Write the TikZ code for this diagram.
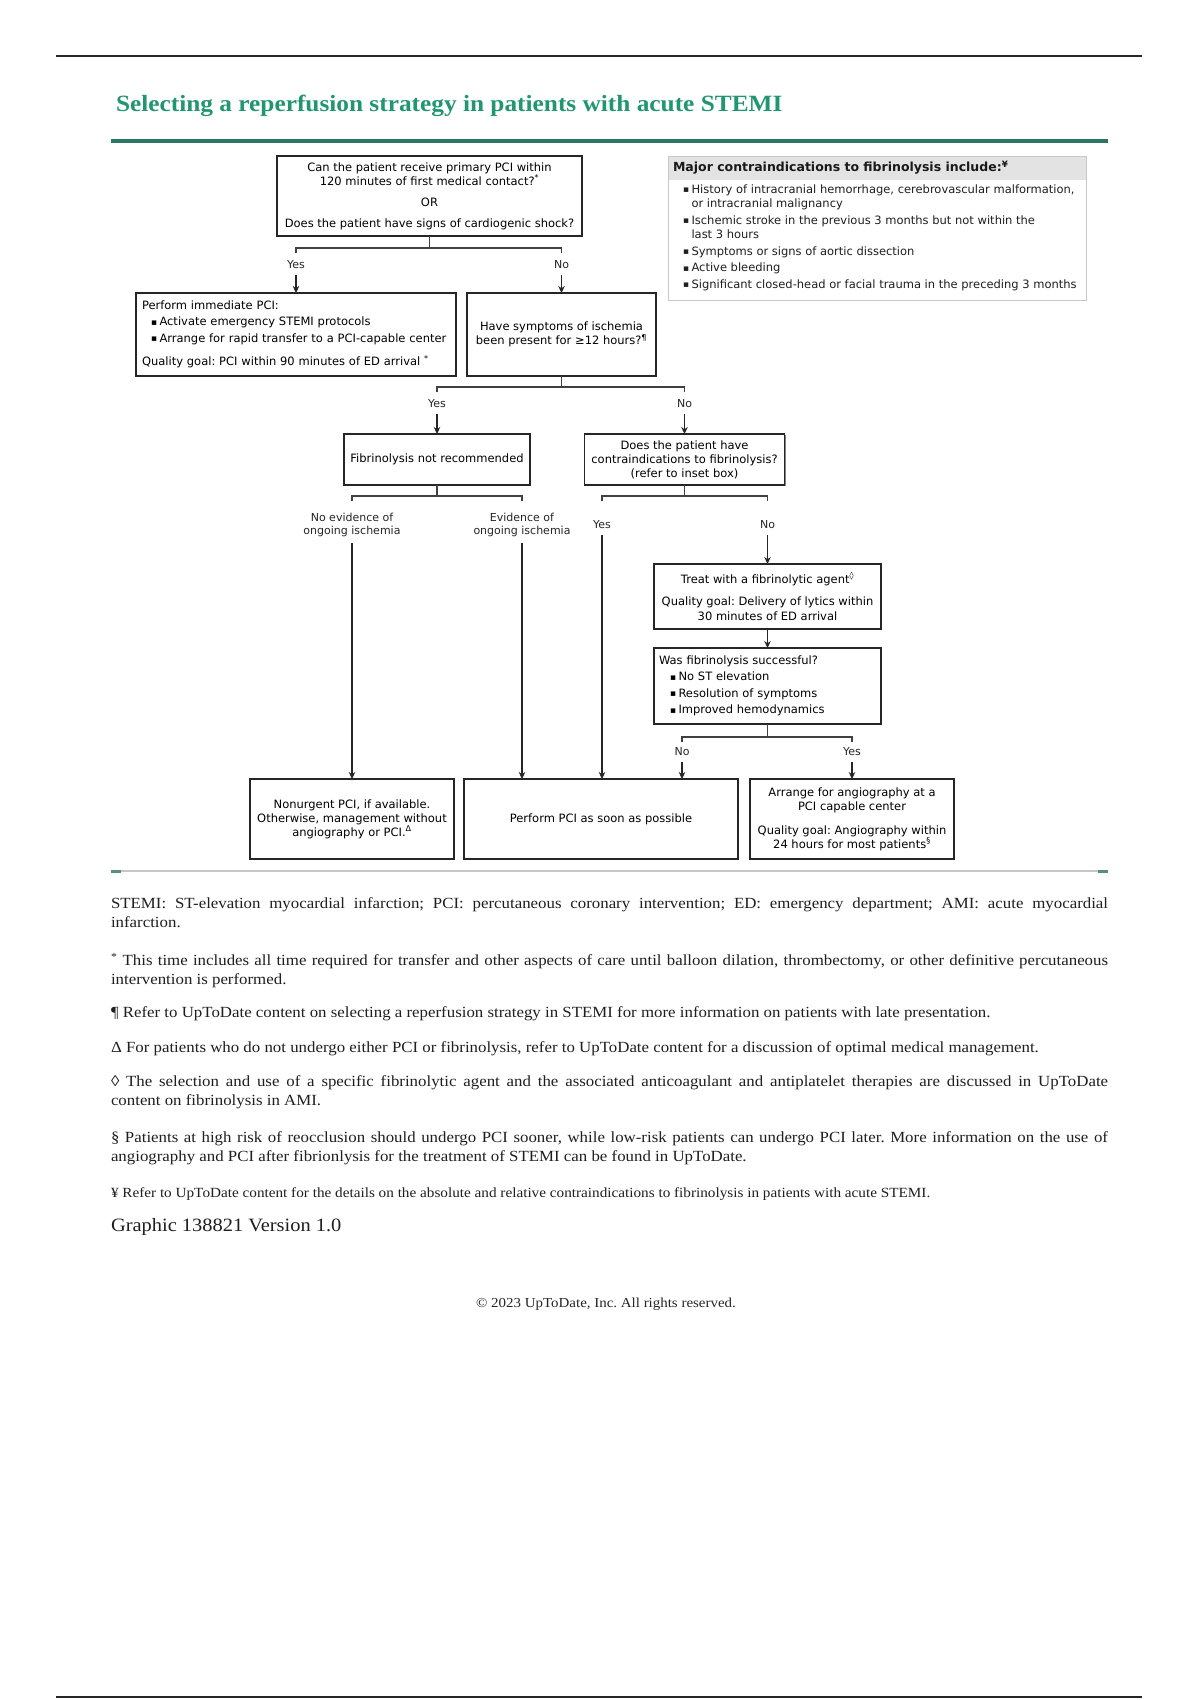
\documentclass[tikz,border=0pt]{standalone}
\usepackage{fontspec}
\setmainfont[FakeStretch=1.087]{Liberation Serif}
\newfontfamily\boxfont{DejaVu Sans}
\usetikzlibrary{arrows.meta,shadows}
\definecolor{titlegreen}{RGB}{34,150,112}
\definecolor{rulegreen}{RGB}{42,118,98}
\newcommand{\bul}{\makebox[8.5pt][l]{\raisebox{0.6pt}{\fontsize{9}{9}\selectfont ▪}}}
\frenchspacing
\begin{document}
\begin{tikzpicture}[x=1pt,y=-1pt,
  every node/.style={inner sep=0pt, outer sep=0pt},
  fbox/.style={draw=black!85, line width=1.2pt, fill=white,
    drop shadow={shadow xshift=1.3pt, shadow yshift=-1.3pt, fill=black!50, opacity=1},
    font=\boxfont\fontsize{11.5}{14}\selectfont, align=center},
  lbox/.style={fbox, align=left, inner xsep=6pt},
  arr/.style={-{Stealth[length=7pt,width=6.5pt]}, line width=1.3pt, draw=black!85},
  ln/.style={line width=1.2pt, draw=black!75},
  lbl/.style={font=\boxfont\fontsize{11}{13.5}\selectfont, align=center, text=black!85},
  fn/.style={anchor=north west, text width=997pt, align=justify, font=\fontsize{15.5}{18.8}\selectfont, text=black!88},
]
\useasboundingbox (0,0) rectangle (1200,1700);
\fill[white] (0,0) rectangle (1200,1700);

% page rules
\coordinate (tl) at (56,56); \coordinate (tr) at (1142,56);
\draw[line width=2pt, black!85] (tl) -- (tr);
\coordinate (bl) at (56,1697); \coordinate (br) at (1142,1697);
\draw[line width=2pt, black!85] (bl) -- (br);

% title
\node[anchor=west, font=\bfseries\fontsize{23.3}{26}\selectfont, text=titlegreen] (title) at (116,105.5) {Selecting a reperfusion strategy in patients with acute STEMI};
\coordinate (gl) at (111,141); \coordinate (gr) at (1108,141);
\draw[rulegreen, line width=4pt] (gl) -- (gr);

% ---------- boxes ----------
\node[fbox, minimum width=305, minimum height=80] (b1) at (429.5,196)
 {Can the patient receive primary PCI within\\120 minutes of first medical contact?\textsuperscript{*}\\[7pt]OR\\[7pt]Does the patient have signs of cardiogenic shock?};

\node[lbox, text width=308pt, minimum height=83, font=\boxfont\fontsize{11.5}{16.5}\selectfont] (b2) at (296,334.5)
 {Perform immediate PCI:\\\hspace*{9pt}\bul Activate emergency STEMI protocols\\\hspace*{9pt}\bul Arrange for rapid transfer to a PCI-capable center\\[7pt]Quality goal: PCI within 90 minutes of ED arrival\textsuperscript{ *}};

\node[fbox, minimum width=189, minimum height=83] (b3) at (561.5,334.5)
 {Have symptoms of ischemia\\been present for ≥12 hours?\textsuperscript{¶}};

\node[fbox, minimum width=186, minimum height=51] (b4) at (437,459.5)
 {Fibrinolysis not recommended};

\node[fbox, minimum width=200, minimum height=51] (b5) at (684.5,459.5)
 {Does the patient have\\contraindications to fibrinolysis?\\(refer to inset box)};

\node[fbox, minimum width=227, minimum height=65, font=\boxfont\fontsize{11.5}{14.5}\selectfont] (b6) at (767.5,596.5)
 {Treat with a fibrinolytic agent\textsuperscript{◊}\\[8pt]Quality goal: Delivery of lytics within\\30 minutes of ED arrival};

\node[lbox, inner xsep=5pt, text width=217pt, minimum height=76, font=\boxfont\fontsize{11.5}{16.5}\selectfont] (b7) at (767.5,686)
 {Was fibrinolysis successful?\\\hspace*{11pt}\bul No ST elevation\\\hspace*{11pt}\bul Resolution of symptoms\\\hspace*{11pt}\bul Improved hemodynamics};

\node[fbox, minimum width=204, minimum height=80] (b8) at (352,819)
 {Nonurgent PCI, if available.\\Otherwise, management without\\angiography or PCI.\textsuperscript{Δ}};

\node[fbox, minimum width=274, minimum height=80] (b9) at (601,819)
 {Perform PCI as soon as possible};

\node[fbox, minimum width=204, minimum height=80] (b10) at (852,819)
 {Arrange for angiography at a\\PCI capable center\\[10pt]Quality goal: Angiography within\\24 hours for most patients\textsuperscript{§}};

% ---------- contraindications inset ----------
\node[draw=black!22, line width=1pt, fill=white, minimum width=418, minimum height=144, anchor=north west] (cb) at (668,156) {};
\node[fill=black!11, minimum width=417, minimum height=23, anchor=north west] (cbh) at (668.5,156.5) {};
\node[anchor=west, font=\boxfont\bfseries\fontsize{12.5}{14}\selectfont, text=black!90] (cbt) at (673,167.5)
 {Major contraindications to fibrinolysis include:\textsuperscript{¥}};
\node[anchor=north west, align=left, font=\boxfont\fontsize{11.5}{14.5}\selectfont, text=black!88] (cbl) at (683,184.5)
 {\bul History of intracranial hemorrhage, cerebrovascular malformation,\\\hspace*{8.5pt}or intracranial malignancy\\[2pt]
  \bul Ischemic stroke in the previous 3 months but not within the\\\hspace*{8.5pt}last 3 hours\\[2pt]
  \bul Symptoms or signs of aortic dissection\\[2pt]
  \bul Active bleeding\\[2pt]
  \bul Significant closed-head or facial trauma in the preceding 3 months};

% ---------- connectors ----------
% from b1
\coordinate (j1l) at (296,248); \coordinate (j1r) at (561.5,248);
\draw[ln] (b1.south) -- (b1.south |- j1l);
\draw[ln] ([yshift=-5pt]j1l) -- (j1l) -- (j1r) -- ([yshift=-5pt]j1r);
\node[lbl] (y1) at (296,265) {Yes};
\node[lbl] (n1) at (561.5,265) {No};
\draw[arr, shorten <=6pt] (y1.south) -- (b2.north);
\draw[arr, shorten <=6pt] (n1.south) -- (b3.north);

% from b3
\coordinate (j2l) at (437,387); \coordinate (j2r) at (684.5,387);
\draw[ln] (b3.south) -- (b3.south |- j2l) -- (j2l) -- ([yshift=-5pt]j2l);
\draw[ln] (b3.south |- j2r) -- (j2r) -- ([yshift=-5pt]j2r);
\node[lbl] (y2) at (437,404) {Yes};
\node[lbl] (n2) at (684.5,404) {No};
\draw[arr, shorten <=6pt] (y2.south) -- (b4.north);
\draw[arr, shorten <=6pt] (n2.south) -- (b5.north);

% from b4
\coordinate (j3l) at (352,496); \coordinate (j3r) at (522,496);
\draw[ln] (b4.south) -- (b4.south |- j3l);
\draw[ln] ([yshift=-5pt]j3l) -- (j3l) -- (j3r) -- ([yshift=-5pt]j3r);
\node[lbl] (ne) at (352,525) {No evidence of\\ongoing ischemia};
\node[lbl] (ev) at (522,525) {Evidence of\\ongoing ischemia};
\draw[arr, shorten <=6pt] (ne.south) -- (b8.north);
\draw[arr, shorten <=6pt] (ev.south) -- (ev.south |- b9.north);

% from b5
\coordinate (j4l) at (602,496); \coordinate (j4r) at (767.5,496);
\draw[ln] (b5.south) -- (b5.south |- j4l);
\draw[ln] ([yshift=-5pt]j4l) -- (j4l) -- (j4r) -- ([yshift=-5pt]j4r);
\node[lbl] (y4) at (602,525) {Yes};
\node[lbl] (n4) at (767.5,525) {No};
\draw[arr, shorten <=6pt] (y4.south) -- (y4.south |- b9.north);
\draw[arr, shorten <=6pt] (n4.south) -- (b6.north);

% b6 -> b7
\draw[arr] (b6.south) -- (b7.north);

% from b7
\coordinate (j5l) at (682,737); \coordinate (j5r) at (852,737);
\draw[ln] (b7.south) -- (b7.south |- j5l);
\draw[ln] ([yshift=-5pt]j5l) -- (j5l) -- (j5r) -- ([yshift=-5pt]j5r);
\node[lbl] (n5) at (682,752) {No};
\node[lbl] (y5) at (852,752) {Yes};
\draw[arr, shorten <=6pt] (n5.south) -- (n5.south |- b9.north);
\draw[arr, shorten <=6pt] (y5.south) -- (b10.north);

% separator
\coordinate (sl) at (111,871); \coordinate (sr) at (1108,871);
\draw[black!22, line width=1.5pt] (sl) -- (sr);
\draw[rulegreen!80, line width=3pt] (sl) -- ++(10,0);
\draw[rulegreen!80, line width=3pt] (sr) -- ++(-10,0);

% ---------- footnotes ----------
\node[fn] (f1) at (111,898) {STEMI: ST-elevation myocardial infarction; PCI: percutaneous coronary intervention; ED: emergency department; AMI: acute myocardial\linebreak infarction.};
\node[fn] (f2) at (111,953) {\textsuperscript{*} This time includes all time required for transfer and other aspects of care until balloon dilation, thrombectomy, or other definitive percutaneous\linebreak intervention is performed.};
\node[fn] (f3) at (111,1007) {¶ Refer to UpToDate content on selecting a reperfusion strategy in STEMI for more information on patients with late presentation.};
\node[fn] (f4) at (111,1042) {Δ For patients who do not undergo either PCI or fibrinolysis, refer to UpToDate content for a discussion of optimal medical management.};
\node[fn] (f5) at (111,1076) {◊ The selection and use of a specific fibrinolytic agent and the associated anticoagulant and antiplatelet therapies are discussed in UpToDate\linebreak content on fibrinolysis in AMI.};
\node[fn] (f6) at (111,1132) {§ Patients at high risk of reocclusion should undergo PCI sooner, while low-risk patients can undergo PCI later. More information on the use of\linebreak angiography and PCI after fibrionlysis for the treatment of STEMI can be found in UpToDate.};
\node[fn, font=\fontsize{14}{16}\selectfont] (f7) at (111,1188) {¥ Refer to UpToDate content for the details on the absolute and relative contraindications to fibrinolysis in patients with acute STEMI.};
\node[anchor=west, font=\fontsize{18.8}{22}\selectfont, text=black!88] (gv) at (111,1226.5) {Graphic 138821 Version 1.0};
\node[font=\fontsize{13.75}{16}\selectfont, text=black!85] (cp) at (606,1304) {© 2023 UpToDate, Inc. All rights reserved.};
\end{tikzpicture}
\end{document}
